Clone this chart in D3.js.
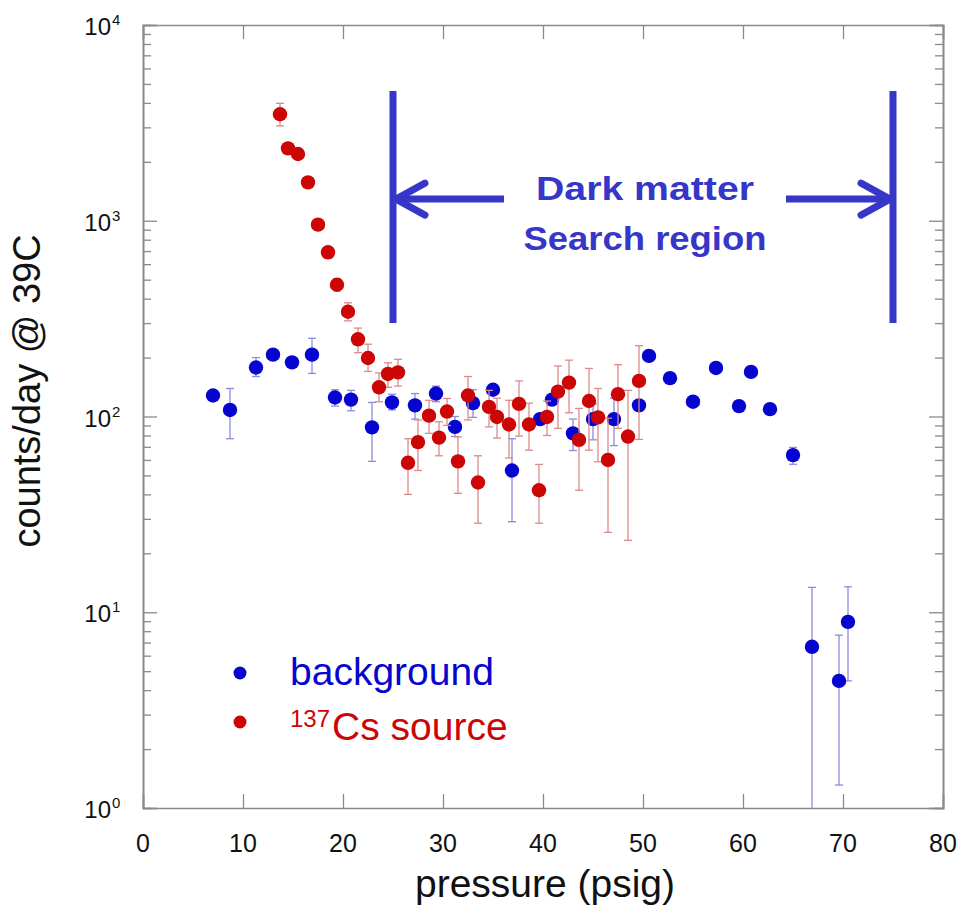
<!DOCTYPE html>
<html>
<head>
<meta charset="utf-8">
<script src="https://cdn.jsdelivr.net/npm/d3@7"></script>
<style>
  html, body { margin: 0; padding: 0; background: #fff; }
  svg { display: block; }
  text { font-family: "Liberation Sans", Arial, sans-serif; }
</style>
</head>
<body>
<svg id="chart" width="963" height="915"></svg>
<script>
// Background runs (blue): pressure, rate and error-bar bounds
const bgPressure = [7.0, 8.7, 11.3, 13.0, 14.9, 16.9, 19.2, 20.8, 22.9, 24.9,
                    27.2, 29.3, 31.2, 33.0, 35.0, 36.9, 39.7, 40.9, 43.0, 45.0,
                    47.1, 49.6, 50.6, 52.7, 55.0, 57.3, 59.6, 60.8, 62.7, 65.0,
                    66.9, 69.6, 70.5];
const bgCounts = [128, 108, 178, 207, 189, 207, 125, 122, 88, 118,
                  114, 131, 88.5, 117, 137, 53, 97, 122, 82, 97,
                  97, 114, 204, 157, 119, 177, 113, 169, 109, 63.5,
                  6.66, 4.46, 8.93];
const bgLow = [122, 77, 160, 198, 181, 166, 113, 107, 59, 108,
               97, 119, 79, 99, 130, 29, 91, 115, 67, 76,
               71, 108, 195, 149, 112, 169, 107, 161, 103, 57,
               0.5, 1.31, 4.46];
const bgHigh = [134, 139, 200, 216, 197, 251, 137, 136, 118, 130,
                131, 143, 100, 137, 144, 77, 103, 129, 97, 116,
                124, 120, 213, 165, 126, 185, 119, 177, 115, 69.5,
                13.4, 7.64, 13.5];

// 137Cs source runs (red)
const csPressure = [13.7, 14.5, 15.5, 16.5, 17.5, 18.5, 19.4, 20.5, 21.5, 22.5,
                    23.6, 24.5, 25.5, 26.5, 27.5, 28.6, 29.6, 30.4, 31.5, 32.5,
                    33.5, 34.6, 35.4, 36.6, 37.6, 38.6, 39.6, 40.4, 41.5, 42.6,
                    43.6, 44.6, 45.5, 46.5, 47.5, 48.5, 49.6];
const csCounts = [3500, 2344, 2193, 1570, 955, 690, 471, 343, 248, 199,
                  141, 165, 168, 58, 74, 101, 78, 106, 59, 128,
                  46, 112, 99.5, 91, 116, 91, 42, 99.5, 134, 149,
                  76, 120, 99, 60, 130, 79, 152];
const csLow = [3055, 2230, 2085, 1490, 900, 645, 438, 308, 212, 170,
               119, 141, 143, 40, 53, 82, 63, 90, 40.5, 96,
               28.5, 88.5, 77.6, 61.4, 79.4, 67.3, 28.5, 80, 87, 104.5,
               42, 67.3, 58.7, 25.6, 87, 23.3, 76.4];
const csHigh = [3980, 2460, 2300, 1650, 1010, 735, 505, 381, 283, 234,
                167, 188, 196, 77, 96, 121, 94, 123.6, 78.7, 160,
                63, 136, 124, 121, 152, 117, 56.9, 120, 181, 194,
                110, 176, 139, 98, 184, 136, 230];

// Axis ticks and labels
const xTicks = [0, 10, 20, 30, 40, 50, 60, 70, 80];
const yTicks = [1, 10, 100, 1000, 10000];
const yTickExponents = ["0", "1", "2", "3", "4"];
const xTitle = "pressure (psig)";
const yTitle = "counts/day @ 39C";

// Legend
const legendLabels = ["background", "Cs source"];
const legendSup = ["", "137"];

// Search-region bracket: pressure limits, vertical extent, arrow level
const regionBounds = [25, 75];
const bracketSpan = [4600, 300];
const arrowLevel = 1290;
const arrowTails = [36.1, 64.3];
const regionLabel = ["Dark matter", "Search region"];

const colBlue = "#0505cf", colRed = "#cc0505";
const errBlue = "#8c8cdc", errRed = "#dc8a8a";
const annColor = "#3636c9";

const svg = d3.select("#chart");
svg.append("rect").attr("width", 963).attr("height", 915).attr("fill", "#fff");

const pL = 143, pR = 943, pT = 25, pB = 808;
const x = d3.scaleLinear().domain([0, 80]).range([pL, pR]);
const y = d3.scaleLog().domain([1, 10000]).range([pB, pT]);

const axisCol = "#8a8a8a";

// clip for data marks
svg.append("clipPath").attr("id", "plotclip")
  .append("rect").attr("x", pL).attr("y", pT)
  .attr("width", pR - pL).attr("height", pB - pT);

// frame axes with inward ticks
const majorLen = 14, minorLen = 8;
const gAx = svg.append("g");
gAx.append("g").attr("transform", `translate(0,${pB})`)
  .call(d3.axisBottom(x).tickValues(xTicks).tickSize(-majorLen).tickFormat(""));
gAx.append("g").attr("transform", `translate(0,${pT})`)
  .call(d3.axisTop(x).tickValues(xTicks).tickSize(-majorLen).tickFormat(""));

const minorY = [];
for (let e = 0; e < 4; e++) for (let m = 2; m <= 9; m++) minorY.push(m * Math.pow(10, e));
[["axisLeft", pL], ["axisRight", pR]].forEach(([fn, pos]) => {
  gAx.append("g").attr("transform", `translate(${pos},0)`)
    .call(d3[fn](y).tickValues(yTicks).tickSize(-majorLen).tickFormat(""));
  gAx.append("g").attr("transform", `translate(${pos},0)`)
    .call(d3[fn](y).tickValues(minorY).tickSize(-minorLen).tickFormat(""));
});
gAx.selectAll(".domain").attr("stroke", axisCol).attr("stroke-width", 1.6);
gAx.selectAll(".tick line").attr("stroke", axisCol).attr("stroke-width", 1.3);

// tick labels
svg.append("g").selectAll("text").data(xTicks).join("text")
  .attr("x", d => x(d)).attr("y", pB + 44)
  .attr("text-anchor", "middle").attr("font-size", 25).attr("fill", "#111")
  .text(d => d);

const yl = svg.append("g");
yTicks.forEach((v, i) => {
  yl.append("text").attr("x", pL - 32).attr("y", y(v) + 10)
    .attr("text-anchor", "end").attr("font-size", 24).attr("fill", "#111").text("10");
  yl.append("text").attr("x", pL - 31).attr("y", y(v))
    .attr("font-size", 15).attr("fill", "#111").text(yTickExponents[i]);
});

// axis titles
svg.append("text").attr("x", (pL + pR) / 2 + 2).attr("y", 897)
  .attr("text-anchor", "middle").attr("font-size", 39).attr("fill", "#111").text(xTitle);
svg.append("text").attr("transform", "translate(40,391) rotate(-90)")
  .attr("text-anchor", "middle").attr("font-size", 38).attr("fill", "#111").text(yTitle);

// data series
function drawSeries(px, vals, lo, hi, col, ecol) {
  const g = svg.append("g").attr("clip-path", "url(#plotclip)");
  const rows = px.map((p, i) => ({ p, v: vals[i], lo: lo[i], hi: hi[i] }));
  const cap = 4;
  const eb = g.append("g").attr("stroke", ecol).attr("stroke-width", 1.3).attr("fill", "none");
  eb.selectAll("line.v").data(rows).join("line").attr("class", "v")
    .attr("x1", d => x(d.p)).attr("x2", d => x(d.p))
    .attr("y1", d => y(d.lo)).attr("y2", d => y(d.hi));
  eb.selectAll("line.t").data(rows).join("line").attr("class", "t")
    .attr("x1", d => x(d.p) - cap).attr("x2", d => x(d.p) + cap)
    .attr("y1", d => y(d.hi)).attr("y2", d => y(d.hi));
  eb.selectAll("line.b").data(rows).join("line").attr("class", "b")
    .attr("x1", d => x(d.p) - cap).attr("x2", d => x(d.p) + cap)
    .attr("y1", d => y(d.lo)).attr("y2", d => y(d.lo));
  g.selectAll("circle").data(rows).join("circle")
    .attr("cx", d => x(d.p)).attr("cy", d => y(d.v)).attr("r", 7.2)
    .attr("fill", col);
}
drawSeries(bgPressure, bgCounts, bgLow, bgHigh, colBlue, errBlue);
drawSeries(csPressure, csCounts, csLow, csHigh, colRed, errRed);

// legend
const lg = svg.append("g");
const legendCols = [colBlue, colRed];
const legendDotY = [673, 722];
const legendBase = [685, 740];
legendLabels.forEach((lab, i) => {
  lg.append("circle").attr("cx", 240).attr("cy", legendDotY[i]).attr("r", 6.5).attr("fill", legendCols[i]);
  const t = lg.append("text").attr("x", 290).attr("y", legendBase[i])
    .attr("font-size", 39).attr("fill", legendCols[i]);
  if (legendSup[i]) {
    t.append("tspan").attr("font-size", 24).attr("dy", -13).text(legendSup[i]);
    t.append("tspan").attr("dy", 13).attr("dx", 2).text(lab);
  } else {
    t.text(lab);
  }
});

// search-region bracket with arrows
const ann = svg.append("g").attr("stroke", annColor).attr("fill", "none");
regionBounds.forEach(b => {
  ann.append("line").attr("x1", x(b)).attr("x2", x(b))
    .attr("y1", y(bracketSpan[0])).attr("y2", y(bracketSpan[1]))
    .attr("stroke-width", 7);
});
const ay = y(arrowLevel);
ann.append("line").attr("x1", x(regionBounds[0]) + 3).attr("x2", x(arrowTails[0]))
  .attr("y1", ay).attr("y2", ay).attr("stroke-width", 7);
ann.append("line").attr("x1", x(arrowTails[1])).attr("x2", x(regionBounds[1]) - 3)
  .attr("y1", ay).attr("y2", ay).attr("stroke-width", 7);
const headW = 29, headH = 16;
[[x(regionBounds[0]) + 3, 1], [x(regionBounds[1]) - 3, -1]].forEach(([tx, dir]) => {
  ann.append("path")
    .attr("d", `M${tx + dir * headW},${ay - headH} L${tx},${ay} L${tx + dir * headW},${ay + headH}`)
    .attr("stroke-width", 7).attr("stroke-linecap", "round").attr("stroke-linejoin", "round");
});
const labelX = (x(arrowTails[0]) + x(arrowTails[1])) / 2;
const labelWidths = [218, 243];
regionLabel.forEach((t, i) => {
  svg.append("text").attr("x", labelX).attr("y", ay + 1 + i * 50)
    .attr("text-anchor", "middle")
    .attr("font-family", "'DejaVu Sans', sans-serif").attr("font-weight", "bold")
    .attr("font-size", 33).attr("fill", annColor)
    .attr("textLength", labelWidths[i]).attr("lengthAdjust", "spacingAndGlyphs")
    .text(t);
});
</script>
</body>
</html>
